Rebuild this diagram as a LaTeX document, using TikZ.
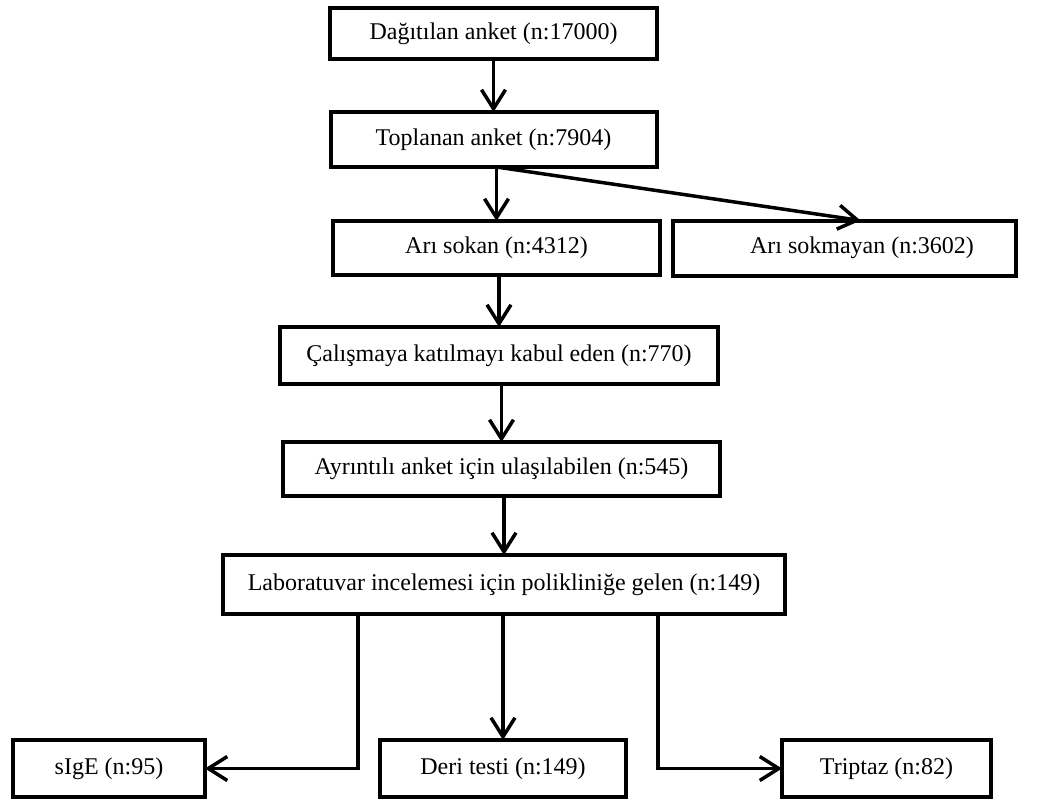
\documentclass[tikz,border=0pt]{standalone}
\usepackage{fontspec}
\setmainfont{Liberation Serif}
\usetikzlibrary{positioning,arrows.meta}

\begin{document}
\begin{tikzpicture}[
  x=0.5pt, y=-0.5pt,
  font=\fontsize{12}{14}\selectfont, >={Straight Barb[length=9.5pt,width=12pt]},
  box/.style={draw,line width=2pt,inner sep=2pt,outer sep=0pt,align=center},
  arr/.style={->,line width=1.75pt}]
  \useasboundingbox (0,0) rectangle (1048,798);
  % --- main column ---
  \node[box,minimum width=163.5pt,minimum height=25.5pt] (dag) at (493.5,33.5) {Dağıtılan anket (n:17000)};
  \node[box,minimum width=163pt,minimum height=27.5pt,below=26.5pt of dag] (top) {Toplanan anket (n:7904)};
  \node[box,minimum width=163.5pt,minimum height=27pt,below=27pt of top,xshift=1.5pt] (ari) {Arı sokan (n:4312)};
  \node[box,minimum width=171.5pt,minimum height=27.5pt,right=6.5pt of ari] (son) {\hspace*{17.5pt}Arı sokmayan (n:3602)};
  \node[box,minimum width=219pt,minimum height=28.5pt,below=26pt of ari,xshift=1.25pt] (cal) {Çalışmaya katılmayı kabul eden (n:770)};
  \node[box,minimum width=218.5pt,minimum height=27pt,below=29pt of cal,xshift=1.25pt] (ayr) {Ayrıntılı anket için ulaşılabilen (n:545)};
  \node[box,minimum width=281pt,minimum height=29.5pt,below=29.5pt of ayr,xshift=1.25pt] (lab) {Laboratuvar incelemesi için polikliniğe gelen (n:149)};
  % --- test boxes ---
  \node[box,minimum width=123pt,minimum height=28.5pt,below=63pt of lab,xshift=-0.5pt] (deri) {Deri testi (n:149)};
  \node[box,minimum width=96pt,minimum height=28.5pt,left=87.5pt of deri] (sige) {sIgE (n:95)};
  \node[box,minimum width=104.5pt,minimum height=28.5pt,right=78pt of deri] (trip) {Triptaz (n:82)};
  % --- arrows ---
  \draw[arr] (top.north |- dag.south) -- (top.north);
  \draw[arr] (ari.north |- top.south) -- (ari.north);
  \draw[arr] ([xshift=1.5pt]top.south) -- ([xshift=8pt]son.north);
  \draw[arr] (cal.north |- ari.south) -- (cal.north);
  \draw[arr] (ayr.north |- cal.south) -- (ayr.north);
  \draw[arr] (lab.north |- ayr.south) -- (lab.north);
  \draw[arr] (deri.north |- lab.south) -- (deri.north);
  \draw[arr] ([xshift=-73pt]lab.south) |- (sige.east);
  \draw[arr] ([xshift=77pt]lab.south) |- (trip.west);
\end{tikzpicture}
\end{document}
